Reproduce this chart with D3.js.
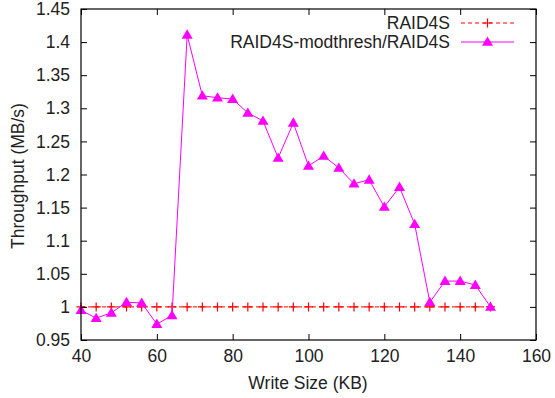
<!DOCTYPE html>
<html>
<head>
<meta charset="utf-8">
<script src="https://cdn.jsdelivr.net/npm/d3@7"></script>
<style>
  body { margin: 0; background: #fff; }
  svg { display: block; font-family: "Liberation Sans", Arial, Helvetica, sans-serif; }
</style>
</head>
<body>
<svg id="canvas"></svg>
<script>
let sizes = [40, 44, 48, 52, 56, 60, 64, 68, 72, 76, 80, 84, 88, 92, 96, 100, 104, 108, 112, 116, 120, 124, 128, 132, 136, 140, 144, 148]
let raid4s = [1, 1, 1, 1, 1, 1, 1, 1, 1, 1, 1, 1, 1, 1, 1, 1, 1, 1, 1, 1, 1, 1, 1, 1, 1, 1, 1, 1]
let modthresh = [0.995, 0.983, 0.991, 1.007, 1.006, 0.974, 0.987, 1.411, 1.319, 1.316, 1.314, 1.293, 1.281, 1.225, 1.278, 1.213, 1.228, 1.210, 1.186, 1.192, 1.151, 1.181, 1.125, 1.007, 1.039, 1.039, 1.033, 1.0]
let xTicks = [40, 60, 80, 100, 120, 140, 160]
let yTicks = [0.95, 1, 1.05, 1.1, 1.15, 1.2, 1.25, 1.3, 1.35, 1.4, 1.45]
let seriesNames = ['RAID4S', 'RAID4S-modthresh/RAID4S']

let width = 555
let height = 398
let padLeft = 81, padRight = 536, padTop = 9, padBottom = 340
let fontSize = 17.5

let canvas = d3.select('#canvas')
canvas.attr('width', width).attr('height', height)

let xScale = d3.scaleLinear().domain([40, 160]).range([padLeft, padRight])
let yScale = d3.scaleLinear().domain([0.95, 1.45]).range([padBottom, padTop])

// ticks on all four sides, pointing inward
let drawAxes = () => {
    let fmtY = (d) => d3.format('')(+d.toFixed(2))
    let xAxis = d3.axisBottom(xScale).tickValues(xTicks).tickSizeInner(-6).tickSizeOuter(0).tickPadding(10)
    let xTop = d3.axisTop(xScale).tickValues(xTicks).tickSizeInner(-6).tickSizeOuter(0).tickFormat('')
    let yAxis = d3.axisLeft(yScale).tickValues(yTicks).tickSizeInner(-6).tickSizeOuter(0).tickPadding(11).tickFormat(fmtY)
    let yRight = d3.axisRight(yScale).tickValues(yTicks).tickSizeInner(-6).tickSizeOuter(0).tickFormat('')

    canvas.append('g').attr('transform', 'translate(0,' + padBottom + ')').call(xAxis)
    canvas.append('g').attr('transform', 'translate(0,' + padTop + ')').call(xTop)
    canvas.append('g').attr('transform', 'translate(' + padLeft + ',0)').call(yAxis)
    canvas.append('g').attr('transform', 'translate(' + padRight + ',0)').call(yRight)

    canvas.selectAll('.domain').remove()
    canvas.selectAll('.tick line').attr('stroke', '#000')
    canvas.selectAll('.tick text').attr('font-size', fontSize).attr('fill', '#222')
        .attr('font-family', '"Liberation Sans", Arial, sans-serif')

    canvas.append('rect')
        .attr('x', padLeft).attr('y', padTop)
        .attr('width', padRight - padLeft).attr('height', padBottom - padTop)
        .attr('fill', 'none').attr('stroke', '#000').attr('stroke-width', 1.2)

    canvas.append('text')
        .attr('x', 308).attr('y', 389)
        .attr('text-anchor', 'middle').attr('font-size', fontSize).attr('fill', '#222')
        .text('Write Size (KB)')
    canvas.append('text')
        .attr('transform', 'translate(24,176) rotate(-90)')
        .attr('text-anchor', 'middle').attr('font-size', fontSize).attr('fill', '#222')
        .text('Throughput (MB/s)')
}

let plus = (g, x, y, s) => {
    g.append('path')
        .attr('d', 'M' + (x - s) + ',' + y + 'H' + (x + s) + 'M' + x + ',' + (y - s) + 'V' + (y + s))
        .attr('stroke', '#f00').attr('stroke-width', 1.2).attr('fill', 'none')
}
let tri = (g, x, y, s) => {
    g.append('path')
        .attr('d', 'M' + x + ',' + (y - s) + 'L' + (x + s) + ',' + (y + s * 0.7) + 'L' + (x - s) + ',' + (y + s * 0.7) + 'Z')
        .attr('fill', '#f0f')
}

let drawSeries = () => {
    let line = d3.line().x((d, i) => xScale(sizes[i])).y((d) => yScale(d))

    canvas.append('path').datum(raid4s)
        .attr('d', line).attr('fill', 'none')
        .attr('stroke', '#f00').attr('stroke-width', 1).attr('stroke-dasharray', '4,3')
    let g1 = canvas.append('g')
    raid4s.forEach((v, i) => plus(g1, xScale(sizes[i]), yScale(v), 4.5))

    canvas.append('path').datum(modthresh)
        .attr('d', line).attr('fill', 'none')
        .attr('stroke', '#f0f').attr('stroke-width', 1)
    let g2 = canvas.append('g')
    modthresh.forEach((v, i) => tri(g2, xScale(sizes[i]), yScale(v), 5.5))
}

let drawLegend = () => {
    let rows = [23, 42]
    seriesNames.forEach((name, i) => {
        canvas.append('text')
            .attr('x', 450).attr('y', rows[i] + 6)
            .attr('text-anchor', 'end').attr('font-size', fontSize).attr('fill', '#222')
            .text(name)
    })
    canvas.append('line')
        .attr('x1', 461).attr('x2', 514).attr('y1', rows[0]).attr('y2', rows[0])
        .attr('stroke', '#f00').attr('stroke-dasharray', '4,3')
    plus(canvas, 487.5, rows[0], 4.5)
    canvas.append('line')
        .attr('x1', 461).attr('x2', 514).attr('y1', rows[1]).attr('y2', rows[1])
        .attr('stroke', '#f0f')
    tri(canvas, 487.5, rows[1], 5.5)
}

drawSeries()
drawAxes()
drawLegend()
</script>
</body>
</html>
